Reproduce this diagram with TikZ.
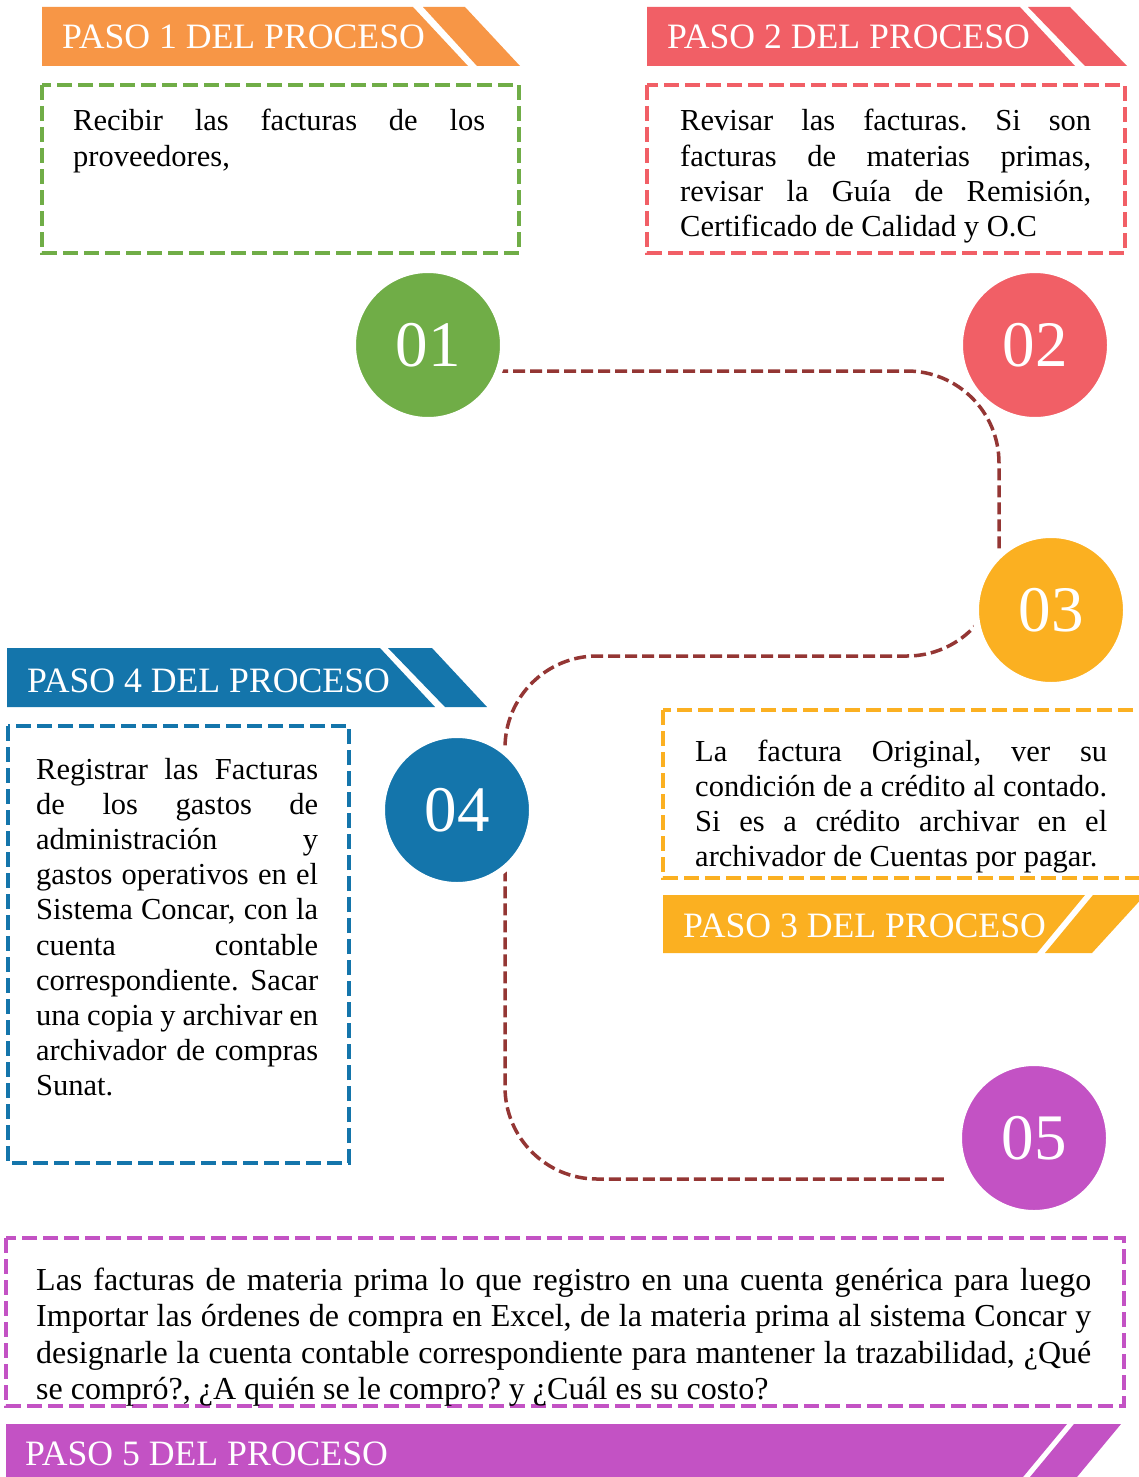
\documentclass[tikz,border=0pt]{standalone}
\usepackage{fontspec}
\setmainfont{Liberation Serif}
\usetikzlibrary{calc,backgrounds}
\definecolor{cgreen}{HTML}{70AD47}
\definecolor{corange}{HTML}{F79646}
\definecolor{cred}{HTML}{F15F66}
\definecolor{cyellow}{HTML}{FBB021}
\definecolor{cblue}{HTML}{1475AB}
\definecolor{cmag}{HTML}{C352C4}
\definecolor{cconn}{HTML}{943634}
\newcommand\JLine[1]{\makebox[\linewidth][s]{#1}}
\frenchspacing
\begin{document}
\begin{tikzpicture}[x=1pt,y=-1pt,
  bannertext/.style={anchor=base west, inner sep=0, text=white, font=\fontsize{35.7}{40}\selectfont},
  stepcircle/.style={circle, fill=#1, draw=white, line width=7pt, minimum size=151pt, inner sep=0, text=white, font=\fontsize{65}{70}\selectfont},
  dashbox/.style={draw=#1, line width=4pt, dash pattern=on 15pt off 6pt},
  bodytext/.style={anchor=base west, inner sep=0, font=\fontsize{30.5}{35.2}\selectfont},
  bigtext/.style={anchor=base west, inner sep=0, font=\fontsize{32}{36.5}\selectfont},
  conn/.style={draw=cconn, line width=3.5pt, dash pattern=on 12pt off 5pt, rounded corners=92pt}
]
\useasboundingbox (0,0) rectangle (1138,1477);

% banners
\fill[corange] (42,7) -- (413,7) -- (468,66) -- (42,66) -- cycle;
\fill[corange] (423,7) -- (465,7) -- (520,66) -- (477,66) -- cycle;
\node[bannertext] (h1) at (62,49) {PASO 1 DEL PROCESO};

\fill[cred] (647,7) -- (1020,7) -- (1075,66) -- (647,66) -- cycle;
\fill[cred] (1028,7) -- (1070,7) -- (1127,66) -- (1085,66) -- cycle;
\node[bannertext] (h2) at (667,49) {PASO 2 DEL PROCESO};

\fill[cblue] (7,648) -- (380,648) -- (435,707) -- (7,707) -- cycle;
\fill[cblue] (388,648) -- (432,648) -- (487,707) -- (445,707) -- cycle;
\node[bannertext] (h4) at (27,692) {PASO 4 DEL PROCESO};

\fill[cyellow] (663,895) -- (1085,895) -- (1037,953) -- (663,953) -- cycle;
\fill[cyellow] (1093,895) -- (1145,895) -- (1092,953) -- (1045,953) -- cycle;
\node[bannertext] (h3) at (683,937) {PASO 3 DEL PROCESO};

\fill[cmag] (6,1424) -- (1067,1424) -- (1018,1483) -- (6,1483) -- cycle;
\fill[cmag] (1074,1424) -- (1121,1424) -- (1072,1483) -- (1025,1483) -- cycle;
\node[bannertext] (h5) at (25,1465) {PASO 5 DEL PROCESO};

% dashed boxes
\draw[dashbox=cgreen] (42,85) rectangle (519,253);
\draw[dashbox=cred] (647,85) rectangle (1125,253);
\draw[dashbox=cyellow] (663,710) rectangle (1150,878);
\draw[dashbox=cblue] (8,726) rectangle (349,1163);
\draw[dashbox=cmag] (6,1238) rectangle (1124,1406);

% texts
\node[bodytext] (t1) at (73,131) {\parbox[t]{412pt}{\JLine{Recibir las facturas de los}\\proveedores,}};
\node[bodytext] (t2) at (680,131) {\parbox[t]{411pt}{\JLine{Revisar las facturas. Si son}\\\JLine{facturas de materias primas,}\\\JLine{revisar la Guía de Remisión,}\\Certificado de Calidad y O.C}};
\node[bodytext] (t3) at (695,761) {\parbox[t]{412pt}{\JLine{La factura Original, ver su}\\\JLine{condición de a crédito al contado.}\\\JLine{Si es a crédito archivar en el}\\archivador de Cuentas por pagar.}};
\node[bodytext] (t4) at (36,779) {\parbox[t]{282pt}{\JLine{Registrar las Facturas}\\\JLine{de los gastos de}\\\JLine{administración y}\\\JLine{gastos operativos en el}\\\JLine{Sistema Concar, con la}\\\JLine{cuenta contable}\\\JLine{correspondiente. Sacar}\\\JLine{una copia y archivar en}\\\JLine{archivador de compras}\\Sunat.}};
\node[bigtext] (t5) at (36,1290) {\parbox[t]{1055pt}{\JLine{Las facturas de materia prima lo que registro en una cuenta genérica para luego}\\\JLine{Importar las órdenes de compra en Excel, de la materia prima al sistema Concar y}\\\JLine{designarle la cuenta contable correspondiente para mantener la trazabilidad, ¿Qué}\\se compró?, ¿A quién se le compro? y ¿Cuál es su costo?}};

% circles
\node[stepcircle=cgreen] (c1) at (428,345) {01};
\node[stepcircle=cred] (c2) at (1035,345) {02};
\node[stepcircle=cyellow] (c3) at (1051,610) {03};
\node[stepcircle=cblue] (c4) at (457,810) {04};
\node[stepcircle=cmag] (c5) at (1034,1138) {05};

% connector (behind the circles)
\coordinate (k1) at (999,371);
\coordinate (k2) at (999,656);
\coordinate (k3) at (505,656);
\coordinate (k4) at (505,1179);
\coordinate (kend) at (947,1179);
\begin{scope}[on background layer]
\fill[white] (0,0) rectangle (1138,1477);
\draw[conn] (c1.center |- k1) -- (k1) -- (k2) -- (k3) -- (k4) -- (kend);
\end{scope}
\end{tikzpicture}
\end{document}
